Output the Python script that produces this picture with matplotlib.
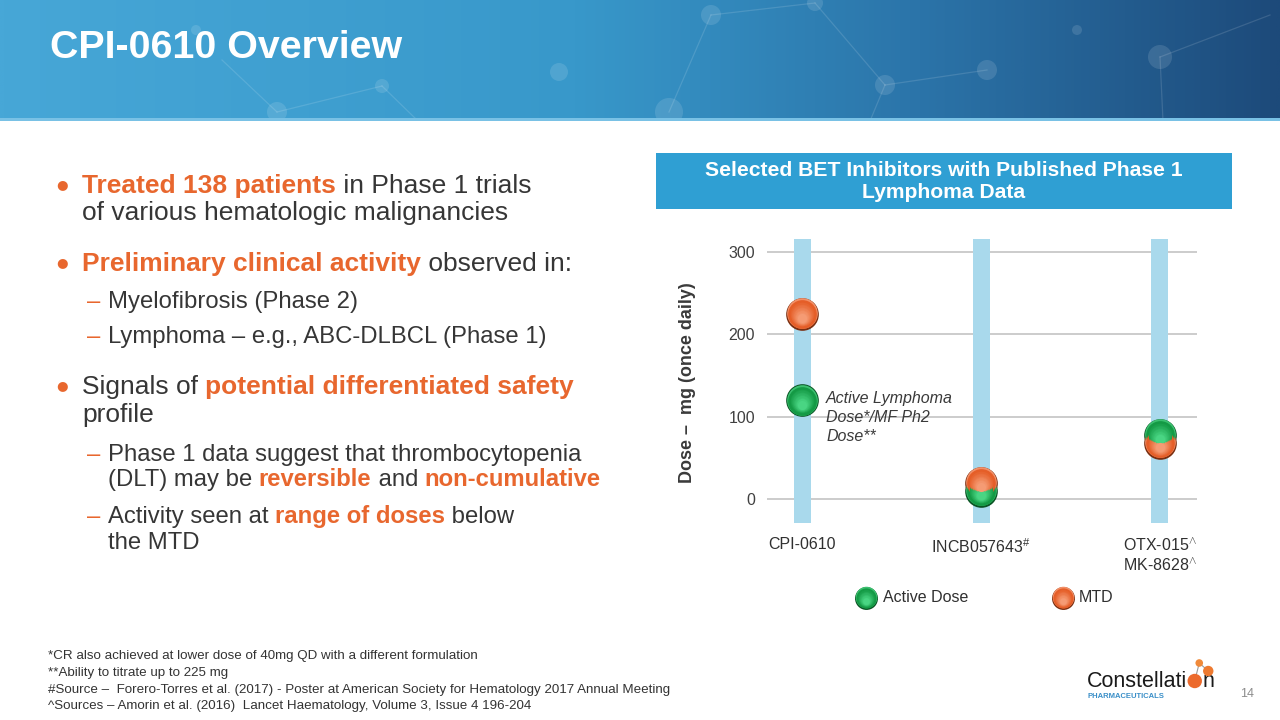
import matplotlib
matplotlib.use('Agg')
import matplotlib.pyplot as plt
import numpy as np
from matplotlib.patches import Rectangle, Circle
from matplotlib.colors import LinearSegmentedColormap, to_rgb
import matplotlib.transforms as mtransforms

plt.rcParams['font.family'] = ['Liberation Sans', 'DejaVu Sans']
plt.rcParams['mathtext.fontset'] = 'custom'
plt.rcParams['mathtext.rm'] = 'Liberation Sans'
plt.rcParams['mathtext.it'] = 'Liberation Sans:italic'
plt.rcParams['mathtext.bf'] = 'Liberation Sans:bold'

# ---------------- data ----------------
drugs = ['CPI-0610', 'INCB057643$^{\\#}$', 'OTX-015$^{\\wedge}$\nMK-8628$^{\\wedge}$']
active_dose = [120, 10, 78]
mtd = [225, 20, 68]
y_ticks = [0, 100, 200, 300]
series_names = ['Active Dose', 'MTD']
chart_title = 'Selected BET Inhibitors with Published Phase 1\nLymphoma Data'
y_label = 'Dose \u2013  mg (once daily)'
annotation = 'Active Lymphoma\nDose*/MF Ph2\nDose**'
slide_title = 'CPI-0610 Overview'
footnotes = ['*CR also achieved at lower dose of 40mg QD with a different formulation',
             '**Ability to titrate up to 225 mg',
             '#Source \u2013  Forero-Torres et al. (2017) - Poster at American Society for Hematology 2017 Annual Meeting',
             '^Sources \u2013 Amorin et al. (2016)  Lancet Haematology, Volume 3, Issue 4 196-204']

ORANGE_TXT = '#e8672e'
DARK = '#363636'
# (base, rim-dark, top-light, glow)
GREEN = ('#149a45', '#0a5424', '#3cc070', '#4fdc8a')
ORNG = ('#e55e28', '#7a2e10', '#f29068', '#f7a27c')

W, H = 1280, 720
fig = plt.figure(figsize=(12.8, 7.2), dpi=100)
bg = fig.add_axes([0, 0, 1, 1])
bg.axis('off')

# ---------------- banner ----------------
banner_cmap = LinearSegmentedColormap.from_list(
    'banner', [(0, '#47a7d7'), (0.45, '#3898ca'), (0.72, '#2b74a9'), (1, '#1d4a7a')])
grad = np.linspace(0, 1, 512)[None, :]
bg.imshow(grad, cmap=banner_cmap, extent=(0, W, 121, 0), aspect='auto', zorder=0)
bg.set_xlim(0, W)
bg.set_ylim(H, 0)

edges = [((222, 60), (277, 112)), ((277, 112), (382, 86)), ((382, 86), (418, 121)),
         ((711, 15), (815, 3)), ((815, 3), (885, 85)), ((885, 85), (987, 70)),
         ((711, 15), (669, 112)), ((885, 85), (870, 121)), ((1160, 57), (1270, 15)),
         ((1160, 57), (1163, 121))]
for (x0, y0), (x1, y1) in edges:
    bg.plot([x0, x1], [y0, y1], color='white', alpha=0.13, lw=0.9, zorder=1)
nodes = [(277, 112, 10), (382, 86, 7), (196, 30, 5), (711, 15, 10), (815, 3, 8),
         (885, 85, 10), (987, 70, 10), (669, 112, 14), (1160, 57, 12), (559, 72, 9), (1077, 30, 5)]
for nx, ny, nr in nodes:
    bg.add_patch(Circle((nx, ny), nr, color='white', alpha=0.12, lw=0, zorder=1))
bg.add_patch(Rectangle((0, 118), W, 3, color='#79c1e5', lw=0, zorder=2))

bg.text(50, 48, slide_title, color='white', fontsize=28.4, fontweight='bold',
        va='center', ha='left', zorder=3)

# ---------------- left rich text ----------------
renderer = fig.canvas.get_renderer()


def seg_width(s, size, weight):
    t = bg.text(0, 0, s + '|', fontsize=size, fontweight=weight)
    w1 = t.get_window_extent(renderer).width
    t.remove()
    t = bg.text(0, 0, '|', fontsize=size, fontweight=weight)
    w2 = t.get_window_extent(renderer).width
    t.remove()
    return w1 - w2


def rich(x, y, segs, size):
    for s, color, weight in segs:
        bg.text(x, y, s, color=color, fontsize=size, fontweight=weight, va='baseline', ha='left')
        x += seg_width(s, size, weight)


MAIN = 19
SUB = 17.2

def bullet(y):
    bg.text(62, y, '\u25cf', color=ORANGE_TXT, fontsize=9.5, ha='center', va='center',
            family=['DejaVu Sans'])

def dash(yb):
    bg.text(87, yb, '\u2013', color=ORANGE_TXT, fontsize=SUB, ha='left', va='baseline')

bullet(185)
rich(82, 193, [('Treated 138 patients', ORANGE_TXT, 'bold'), (' in Phase 1 trials', DARK, 'normal')], MAIN)
rich(82, 220, [('of various hematologic malignancies', DARK, 'normal')], MAIN)
bullet(263)
rich(82, 271, [('Preliminary clinical activity', ORANGE_TXT, 'bold'), (' observed in:', DARK, 'normal')], MAIN)
dash(308)
rich(108, 308, [('Myelofibrosis (Phase 2)', DARK, 'normal')], SUB)
dash(343)
rich(108, 343, [('Lymphoma \u2013 e.g., ABC-DLBCL (Phase 1)', DARK, 'normal')], SUB)
bullet(386)
rich(82, 394, [('Signals of ', DARK, 'normal'), ('potential differentiated safety', ORANGE_TXT, 'bold')], MAIN)
rich(82, 422, [('profile', DARK, 'normal')], MAIN)
dash(461)
rich(108, 461, [('Phase 1 data suggest that thrombocytopenia', DARK, 'normal')], SUB)
rich(108, 486, [('(DLT) may be ', DARK, 'normal'), ('reversible', ORANGE_TXT, 'bold'),
                (' and ', DARK, 'normal'), ('non-cumulative', ORANGE_TXT, 'bold')], SUB)
dash(523)
rich(108, 523, [('Activity seen at ', DARK, 'normal'), ('range of doses', ORANGE_TXT, 'bold'),
                (' below', DARK, 'normal')], SUB)
rich(108, 549, [('the MTD', DARK, 'normal')], SUB)

# ---------------- chart header ----------------
bg.add_patch(Rectangle((656, 153), 576, 56, color='#2f9fd3', lw=0, zorder=2))
bg.text(944, 181.5, chart_title, color='white', fontsize=15.2, fontweight='bold',
        ha='center', va='center', multialignment='center', linespacing=1.25, zorder=3)

# ---------------- chart ----------------
ax = fig.add_axes([767 / W, 1 - 523 / H, 430 / W, 284 / H])
ax.patch.set_alpha(0)
x = np.arange(len(drugs))
ax.set_xlim(-0.196, 2.207)
ax.set_ylim(-29, 316)
ax.bar(x, 345, bottom=-29, width=0.095, color='#a9d9ec', zorder=2)
ax.set_yticks(y_ticks)
ax.yaxis.grid(True, color='#c8c8c8', lw=1.3)
ax.set_axisbelow(True)
for s in ax.spines.values():
    s.set_visible(False)
ax.tick_params(axis='y', length=0, labelsize=11.5, labelcolor='#404040', pad=8.6)
ax.set_xticks(x, drugs)
ax.tick_params(axis='x', length=0, labelsize=11.5, labelcolor='#303030', pad=10)


def balls(a, xs, ys, col, ms=23.5):
    base, dark, top, glow = col

    def off(dy):
        return a.transData + mtransforms.ScaledTranslation(0, dy / 72, fig.dpi_scale_trans)

    a.plot(xs, ys, 'o', ms=ms, color=dark, mec='none', zorder=5, clip_on=False)
    a.plot(xs, ys, 'o', ms=ms * 0.94, color=top, mec='none', zorder=5.1, clip_on=False,
           transform=off(ms * 0.025))
    a.plot(xs, ys, 'o', ms=ms * 0.88, color=base, mec='none', zorder=5.2, clip_on=False,
           transform=off(-ms * 0.01))
    b = np.array(to_rgb(base))
    g = np.array(to_rgb(glow))
    n = 9
    for k in range(n):
        f = (k + 1) / n
        c = b + (g - b) * f * 0.9
        a.plot(xs, ys, 'o', ms=ms * (0.78 - 0.5 * f), color=c, mec='none',
               zorder=5.3 + k * 0.01, clip_on=False, transform=off(-ms * 0.13 * f))


balls(ax, x, active_dose, GREEN)
balls(ax, x, mtd, ORNG)

ax.annotate(annotation, xy=(x[0], active_dose[0]), xytext=(24, 9), textcoords='offset pixels',
            ha='left', va='top', fontsize=11.5, fontstyle='italic', color='#3a3a3a',
            linespacing=1.3, zorder=8)

bg.text(688, 383, y_label, rotation=90, ha='center', va='center', fontsize=13,
        fontweight='bold', color='#3a3a3a')

# legend
balls(bg, [866], [598], GREEN, ms=16.5)
bg.text(883, 598, series_names[0], fontsize=11.5, color='#303030', va='center', ha='left')
balls(bg, [1063], [598], ORNG, ms=16.5)
bg.text(1079, 598, series_names[1], fontsize=11.5, color='#303030', va='center', ha='left')

# ---------------- footnotes ----------------
for i, line in enumerate(footnotes):
    bg.text(48, 656 + i * 16.8, line, fontsize=9.6, color='#333333', va='center', ha='left')

# ---------------- logo ----------------
bg.text(1087, 687, 'Constellati', fontsize=15.5, color='#1a1a1a', va='baseline', ha='left')
wc = seg_width('Constellati', 15.5, 'normal')
ox = 1087 + wc + 7.5
bg.plot([ox, ox + 4.5, ox + 13.5], [681, 663, 671], color='#999999', lw=0.8, zorder=3)
bg.add_patch(Circle((ox, 681), 7.2, color='#ec6a2c', lw=0, zorder=4))
bg.add_patch(Circle((ox + 4.5, 663), 3.8, color='#f08a3a', lw=0, zorder=4))
bg.add_patch(Circle((ox + 13.5, 671), 5.2, color='#ee7a30', lw=0, zorder=4))
bg.text(ox + 8, 687, 'n', fontsize=15.5, color='#1a1a1a', va='baseline', ha='left')
bg.text(1088, 696, 'PHARMACEUTICALS', fontsize=5.5, fontweight='bold', color='#3a8fc8',
        va='center', ha='left')
bg.text(1247, 694, '14', fontsize=9, color='#8c8c8c', ha='center', va='center')

fig.savefig('out.png', dpi=100)
